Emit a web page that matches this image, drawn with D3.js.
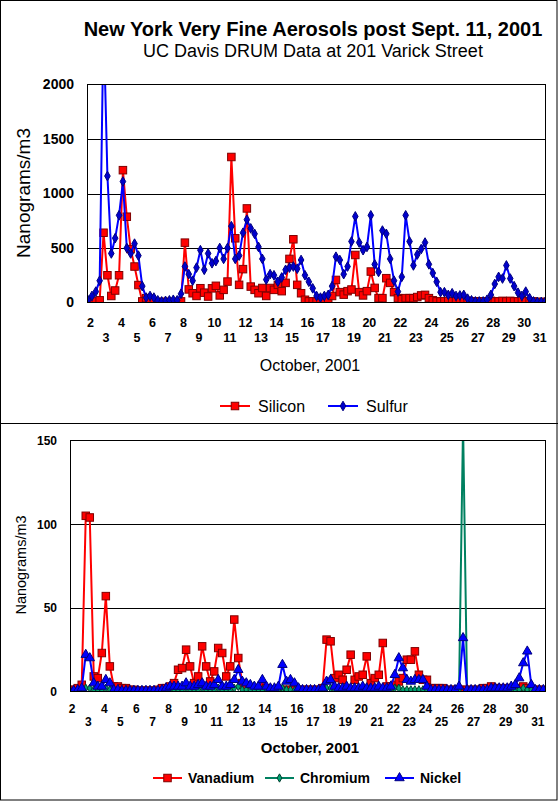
<!DOCTYPE html>
<html><head><meta charset="utf-8">
<script src="https://cdn.jsdelivr.net/npm/d3@7"></script>
<style>
body{margin:0;background:#fff}
svg{display:block}
text{font-family:"Liberation Sans",Arial,sans-serif;fill:#000}
</style>
</head><body>
<svg id="c" width="558" height="801"></svg>
<script>
// ---------------- DATA ----------------
// samples every 6 hours, first sample at Oct 1.875
const startDay = 1.875, stepDay = 0.25;
const dayLabels = ["2","3","4","5","6","7","8","9","10","11","12","13","14","15","16","17","18","19","20","21","22","23","24","25","26","27","28","29","30","31"];
const topYTicks = [0, 500, 1000, 1500, 2000];
const bottomYTicks = [0, 50, 100, 150];

const siliconValues = [
  5,5,10,20,  640,250,60,110,  250,1214,787,490,  330,160,10,40,  35,10,5,5,  5,5,5,5,
  10,549,120,85,  60,131,90,55,  130,153,65,116,  192,1335,589,162,  306,863,146,116,
  85,133,60,133,  116,162,104,180,  400,580,162,85,  25,10,10,8,  8,10,10,60,
  207,95,72,104,  119,436,95,65,  104,284,134,40,  40,223,180,95,  40,30,40,40,
  40,50,65,70,  40,20,10,10,  10,15,10,10,  10,10,15,10,  10,10,10,10,
  15,10,10,15,  10,15,10,10,  20,10,10,10,  5,5,5
];
const sulfurValues = [
  20,60,100,200,  2600,1160,450,590,  800,1110,500,450,  540,430,150,45,  60,45,20,10,  15,20,25,20,
  80,330,260,200,  320,480,300,450,  360,380,500,400,  500,700,400,430,  640,760,680,630,
  510,400,210,260,  250,190,230,300,  320,330,310,390,  250,190,130,60,  45,60,70,150,
  420,390,260,330,  560,790,550,480,  510,800,350,280,  660,630,400,200,  100,235,800,560,
  340,440,490,550,  350,270,190,95,  95,70,85,60,  65,70,35,20,  10,10,10,25,
  70,170,235,220,  340,220,150,90,  60,100,40,10,  5,5,5
];
const vanadiumValues = [
  1,1,2,4,  105,104,9,8,  23,57,15,3,  3,2,2,1,  1,0.5,0.5,0.5,  0.5,0.5,1,2,
  2,3,5,13,  14,25,15,5,  9,27,15,6,  12,26,23,9,  15,43,20,5,
  3,2,2,2,  3,2,1,1,  1,1,1,1,  1,1,1,1,  1,1,1,2,
  31,30,8,10,  7,13,22,7,  9,10,21,5,  8,10,29,3,  3,4,6,8,
  19,19,24,10,  7,7,2,2,  2,2,1,1,  1,1,1,1,  1,1,1,2,
  2,3,2,2,  1,2,2,2,  2,3,2,1,  1,1,1
];
const chromiumValues = [
  0.5,0.5,0.5,0.5,  2,2,1,1,  1,2,1,0.5,  0.5,0.5,0.5,0.5,  0.5,0.5,0.5,0.5,  0.5,0.5,0.5,0.5,
  0.5,1,1,1,  1,2,1,1,  1,2,1,1,  1,2,1,1,  1,2,3,1,
  1,1,1,1,  1,1,0.5,0.5,  1,2,1,1,  0.5,0.5,0.5,0.5,  0.5,0.5,0.5,1,
  2,2,1,1,  1,1,1,1,  1,1,1,1,  1,2,1,1,  1,2,2,1,
  1,1,1,1,  1,1,0.5,0.5,  0.5,0.5,0.5,0.5,  0.5,1,160,1,  0.5,0.5,0.5,0.5,
  0.5,1,1,1,  1,1,1,1,  1,2,1,1,  0.5,0.5,0.5
];
const nickelValues = [
  0.5,0.5,1,2,  22,20,5,3,  3,7,5,1,  1,0.5,0.5,0.5,  0.5,0.5,0.5,0.5,  0.5,0.5,0.5,1,
  2,3,3,3,  3,5,3,3,  4,5,3,3,  4,7,3,3,  4,7,13,6,
  5,4,3,3,  7,3,2,2,  3,16,6,7,  5,2,1,1,  1,1,1,2,
  6,7,3,2,  2,3,2,2,  2,3,2,2,  2,3,2,2,  3,10,20,14,
  7,6,7,7,  7,3,1,1,  1,1,1,1,  1,3,32,1,  1,1,1,1,
  1,2,2,2,  2,2,3,4,  8,17,24,4,  1,1,1
];

// ---------------- DRAWING ----------------
const svg = d3.select("#c");
svg.append("rect").attr("x",0).attr("y",0).attr("width",558).attr("height",801).attr("fill","#fff");
svg.append("rect").attr("x",0.5).attr("y",0.5).attr("width",556.5).attr("height",799.5)
  .attr("fill","none").attr("stroke","#000").attr("stroke-width",1);
svg.append("line").attr("x1",0).attr("x2",558).attr("y1",423.5).attr("y2",423.5)
  .attr("stroke","#000").attr("stroke-width",1);

svg.append("text").attr("x",313).attr("y",36).attr("text-anchor","middle")
  .style("font-size","20px").style("font-weight","bold")
  .text("New York Very Fine Aerosols post Sept. 11, 2001");
svg.append("text").attr("x",313).attr("y",57).attr("text-anchor","middle")
  .style("font-size","18px")
  .text("UC Davis DRUM Data at 201 Varick Street");

function markerPath(type, size){
  const sym = type==="diamond" ? d3.symbolDiamond : d3.symbolTriangle;
  return d3.symbol().type(sym).size(size)();
}

function drawMarker(sel, s){
  if(s.marker==="square"){
    sel.append("rect").attr("x",-s.msize/2).attr("y",-s.msize/2)
      .attr("width",s.msize).attr("height",s.msize)
      .attr("fill",s.fill).attr("stroke",s.stroke).attr("stroke-width",1);
  } else {
    sel.append("path").attr("d",markerPath(s.marker,s.msize*s.msize*(s.marker==="diamond"?0.55:0.6)))
      .attr("fill",s.fill).attr("stroke",s.stroke).attr("stroke-width",1);
  }
}

function panel(o){
  const x = d3.scaleLinear().domain(o.xDomain).range([o.left,o.right]);
  const y = d3.scaleLinear().domain(o.yDomain).range([o.bottom,o.top]);
  const clipId = o.id+"-clip";
  svg.append("clipPath").attr("id",clipId).append("rect")
    .attr("x",o.left).attr("y",o.top).attr("width",o.right-o.left).attr("height",o.bottom-o.top);

  // gridlines
  svg.append("g").selectAll("line").data(o.yTicks.slice(1,-1)).join("line")
    .attr("x1",o.left).attr("x2",o.right)
    .attr("y1",d=>Math.round(y(d))+0.5).attr("y2",d=>Math.round(y(d))+0.5)
    .attr("stroke","#000").attr("stroke-width",1);

  // y axis labels
  const ya = svg.append("g").attr("transform",`translate(${o.left},0)`)
    .call(d3.axisLeft(y).tickValues(o.yTicks).tickSize(0).tickPadding(o.yPad).tickFormat(d3.format("d")));
  ya.select(".domain").remove();
  ya.selectAll("text").style("font-size",o.yFont).style("font-weight","bold")
    .style("font-family",'"Liberation Sans",Arial,sans-serif');

  // x axis labels in two rows
  const days = dayLabels.map(Number);
  [[0,o.xPad1],[1,o.xPad2]].forEach(([par,pad])=>{
    const vals = days.filter((d,i)=>i%2===par);
    const xa = svg.append("g").attr("transform",`translate(0,${o.bottom})`)
      .call(d3.axisBottom(x).tickValues(vals).tickSize(0).tickPadding(pad)
        .tickFormat(d=>dayLabels[days.indexOf(d)]));
    xa.select(".domain").remove();
    xa.selectAll("text").style("font-size",o.xFont).style("font-weight","bold")
      .style("font-family",'"Liberation Sans",Arial,sans-serif');
  });

  // series
  const plot = svg.append("g").attr("clip-path",`url(#${clipId})`);
  o.series.forEach(s=>{
    const line = d3.line().x((d,i)=>x(startDay+i*stepDay)).y(d=>y(d));
    plot.append("path").datum(s.values).attr("d",line)
      .attr("fill","none").attr("stroke",s.color).attr("stroke-width",2).attr("stroke-linejoin","round");
    plot.append("g").selectAll("g").data(s.values).join("g")
      .attr("transform",(d,i)=>`translate(${x(startDay+i*stepDay)},${y(d)})`)
      .each(function(){ drawMarker(d3.select(this), s); });
  });

  // plot border
  svg.append("rect").attr("x",o.left).attr("y",o.top).attr("width",o.right-o.left).attr("height",o.bottom-o.top)
    .attr("fill","none").attr("stroke","#000").attr("stroke-width",1);

  // y title
  svg.append("text").attr("transform",`translate(${o.yTitleX},${o.yTitleY}) rotate(-90)`)
    .attr("text-anchor","middle").style("font-size",o.yTitleFont).text("Nanograms/m3");
  // x title
  svg.append("text").attr("x",o.xTitleX).attr("y",o.xTitleY).attr("text-anchor","middle")
    .style("font-size",o.xTitleFont).style("font-weight",o.xTitleWeight).text("October, 2001");

  // legend
  o.series.forEach(s=>{
    const lg = svg.append("g").attr("transform",`translate(${s.lx},${o.legendY})`);
    lg.append("line").attr("x1",0).attr("x2",s.lw).attr("y1",0).attr("y2",0)
      .attr("stroke",s.color).attr("stroke-width",2);
    const m = lg.append("g").attr("transform",`translate(${s.lw/2},0)`);
    drawMarker(m, s);
    lg.append("text").attr("x",s.lw+o.legendGap).attr("y",0).attr("dy","0.36em")
      .style("font-size",o.legendFont).style("font-weight",o.legendWeight).text(s.name);
  });
}

panel({
  id:"top", left:87.5, right:545.5, top:84.5, bottom:302.5,
  xDomain:[1.839,31.40], yDomain:[0,2000], yTicks:topYTicks,
  yPad:13.5, yFont:"14px", xFont:"12.5px", xPad1:16, xPad2:31,
  yTitleX:30, yTitleY:193, yTitleFont:"19px",
  xTitleX:310, xTitleY:371, xTitleFont:"16px", xTitleWeight:"normal",
  legendY:406, legendFont:"16px", legendWeight:"normal", legendGap:8,
  series:[
    {name:"Silicon", values:siliconValues, color:"#ff0000", marker:"square", msize:7.5, fill:"#ff0000", stroke:"#800000", lx:220, lw:30},
    {name:"Sulfur", values:sulfurValues, color:"#0000ff", marker:"diamond", msize:7, fill:"#0000cc", stroke:"#000080", lx:328, lw:30}
  ]
});

panel({
  id:"bot", left:70.5, right:545.5, top:440.5, bottom:691.5,
  xDomain:[1.925,31.51], yDomain:[0,150], yTicks:bottomYTicks,
  yPad:13.5, yFont:"12px", xFont:"12px", xPad1:13, xPad2:26,
  yTitleX:26, yTitleY:565, yTitleFont:"14.5px",
  xTitleX:310, xTitleY:753, xTitleFont:"15px", xTitleWeight:"bold",
  legendY:778, legendFont:"14px", legendWeight:"bold", legendGap:6,
  series:[
    {name:"Vanadium", values:vanadiumValues, color:"#ff0000", marker:"square", msize:7.5, fill:"#ff0000", stroke:"#800000", lx:153, lw:29},
    {name:"Chromium", values:chromiumValues, color:"#008060", marker:"diamond", msize:6, fill:"#00a070", stroke:"#004030", lx:265, lw:29},
    {name:"Nickel", values:nickelValues, color:"#0000ff", marker:"triangle", msize:8, fill:"#0000ff", stroke:"#000080", lx:385, lw:29}
  ]
});
</script>
</body></html>
